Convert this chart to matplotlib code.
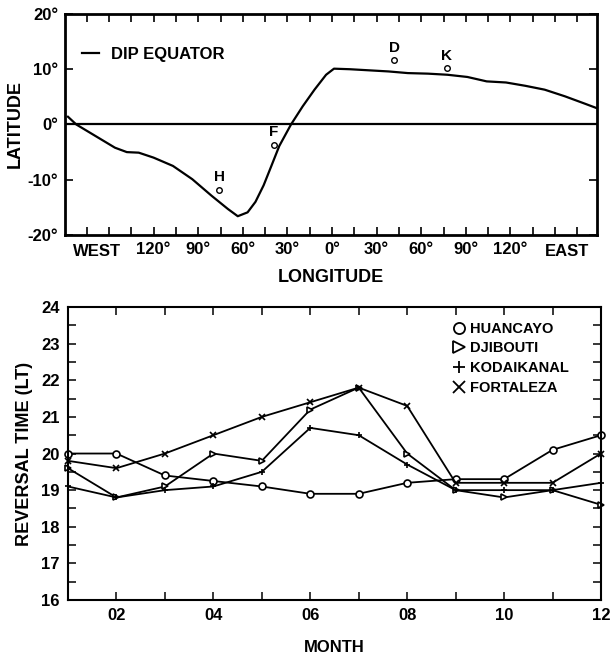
import matplotlib
matplotlib.use("Agg")
import matplotlib.pyplot as plt
from matplotlib.ticker import FixedLocator, MultipleLocator
from matplotlib.lines import Line2D

plt.rcParams["font.family"] = ["Liberation Sans", "DejaVu Sans"]
plt.rcParams["font.weight"] = "bold"
plt.rcParams["axes.labelweight"] = "bold"

# --- top panel data: dip equator ---
eq_lon = [-177.6, -172, -159, -146, -138, -130, -120, -107, -94, -81, -70,
          -63.4, -56.8, -51.5, -46, -40.8, -35.5, -27.6, -19.7, -11.8, -4,
          1.3, 12, 25, 38, 51, 64.5, 77.6, 91, 104, 117, 130, 143, 156.6,
          169.7, 177.6]
eq_lat = [1.4, 0, -2.1, -4.2, -5, -5.1, -6, -7.5, -9.9, -12.9, -15.3,
          -16.6, -15.9, -14, -11, -7.5, -3.9, 0, 3.3, 6.3, 9,
          10.1, 10, 9.8, 9.6, 9.3, 9.2, 9.0, 8.6, 7.8, 7.6, 7.0, 6.3, 5.1,
          3.8, 3.0]

station_codes = ["H", "F", "D", "K"]
station_lon = [-76, -39, 42, 77]
station_lat = [-11.8, -3.7, 11.6, 10.2]

lon_labels = {-120: "120°", -90: "90°", -60: "60°", -30: "30°", 0: "0°",
              30: "30°", 60: "60°", 90: "90°", 120: "120°"}
lat_ticks = [-20, -10, 0, 10, 20]
lat_labels = ["-20°", "-10°", "0°", "10°", "20°"]

# --- bottom panel data: reversal time by month ---
months = list(range(1, 13))
huancayo = [20.0, 20.0, 19.4, 19.25, 19.1, 18.9, 18.9, 19.2, 19.3, 19.3, 20.1, 20.5]
djibouti = [19.6, 18.8, 19.1, 20.0, 19.8, 21.2, 21.8, 20.0, 19.0, 18.8, 19.0, 18.6]
kodaikanal = [19.1, 18.8, 19.0, 19.1, 19.5, 20.7, 20.5, 19.7, 19.0, 19.0, 19.0, 19.2]
fortaleza = [19.8, 19.6, 20.0, 20.5, 21.0, 21.4, 21.8, 21.3, 19.2, 19.2, 19.2, 20.0]
month_labels = ["", "02", "", "04", "", "06", "", "08", "", "10", "", "12"]

fig = plt.figure(figsize=(6.12, 6.59), dpi=100)

# ---------------- top panel ----------------
ax1 = fig.add_axes([0.1062, 0.6434, 0.8693, 0.3354])
ax1.plot(eq_lon, eq_lat, color="black", lw=1.6, solid_joinstyle="round",
         label="DIP EQUATOR")
ax1.axhline(0, color="black", lw=1.6)
ax1.plot(station_lon, station_lat, "o", ms=4, mfc="white", mec="black", mew=1)
for code, x, y in zip(station_codes, station_lon, station_lat):
    ax1.annotate(code, (x, y), xytext=(0, 4), textcoords="offset points",
                 ha="center", va="bottom", fontsize=11)

ax1.set_xlim(-179.6, 178.2)
ax1.set_ylim(-20, 20)
ticks = list(range(-165, 180, 15))
ax1.xaxis.set_major_locator(FixedLocator(ticks))
ax1.set_xticklabels([lon_labels.get(t, "") for t in ticks])
ax1.set_yticks(lat_ticks)
ax1.set_yticklabels(lat_labels)
ax1.tick_params(direction="in", length=6, width=1.2, top=True, right=True,
                labelsize=12, pad=5)
for side_x, word in [(-158, "WEST"), (158, "EAST")]:
    ax1.text(side_x, -21.7, word, ha="center", va="top", fontsize=12)
ax1.set_xlabel("LONGITUDE", fontsize=13, labelpad=9)
ax1.set_ylabel("LATITUDE", fontsize=13, labelpad=3)
for sp in ax1.spines.values():
    sp.set_linewidth(2)
ax1.legend(loc="upper left", bbox_to_anchor=(0.02, 0.88), frameon=False,
           handlelength=1.0, handletextpad=0.7, borderaxespad=0,
           prop={"size": 12, "weight": "bold"})

# ---------------- bottom panel ----------------
ax2 = fig.add_axes([0.1111, 0.0895, 0.8709, 0.4446])
series = [
    (huancayo, "o", "HUANCAYO"),
    (djibouti, ">", "DJIBOUTI"),
    (kodaikanal, "+", "KODAIKANAL"),
    (fortaleza, "x", "FORTALEZA"),
]
handles = []
for values, marker, name in series:
    ax2.plot(months, values, color="black", lw=1.3, marker=marker, ms=5,
             mfc="white", mec="black", mew=1.2, clip_on=False)
    handles.append(Line2D([], [], ls="none", marker=marker, ms=8, mfc="white",
                          mec="black", mew=1.3, label=name))
ax2.set_xlim(1, 12)
ax2.set_ylim(16, 24)
ax2.set_xticks(months)
ax2.set_xticklabels(month_labels)
ax2.yaxis.set_major_locator(MultipleLocator(1))
ax2.yaxis.set_minor_locator(MultipleLocator(0.5))
ax2.tick_params(which="both", direction="in", length=6, width=1.1, top=True,
                right=True, labelsize=12, pad=6)
ax2.set_xlabel("MONTH", fontsize=12, labelpad=12)
ax2.set_ylabel("REVERSAL TIME (LT)", fontsize=13, labelpad=6)
for sp in ax2.spines.values():
    sp.set_linewidth(1.5)
ax2.legend(handles=handles, loc="upper right", bbox_to_anchor=(0.95, 0.97),
           frameon=False, handlelength=0.8, handletextpad=0.3,
           labelspacing=0.4, borderaxespad=0,
           prop={"size": 10.5, "weight": "bold"})

fig.savefig("out.png", dpi=100)
